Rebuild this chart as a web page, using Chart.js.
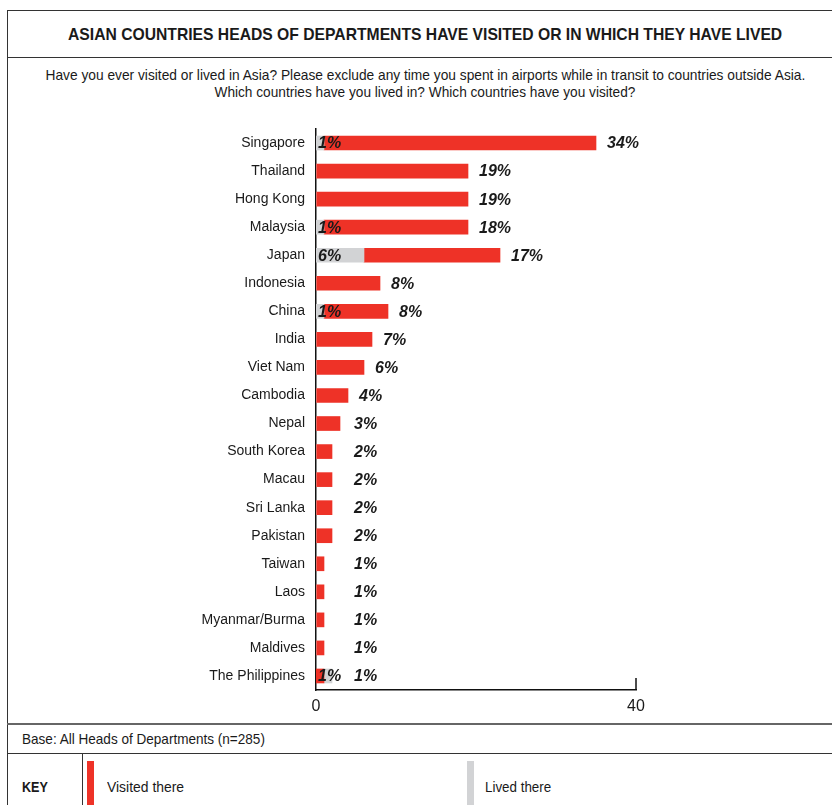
<!DOCTYPE html>
<html>
<head>
<meta charset="utf-8">
<script src="https://cdn.jsdelivr.net/npm/chart.js@4.4.1/dist/chart.umd.min.js"></script>
<style>
  body { margin: 0; background: #fff; font-family: "Liberation Sans", Arial, sans-serif; color: #1a1a1a; }
  #page { position: relative; width: 832px; height: 805px; overflow: hidden; }
  .hline { position: absolute; left: 7px; width: 840px; height: 0; border-top: 1px solid #333; }
  .vline { position: absolute; width: 0; border-left: 1px solid #333; }
  .row { position: absolute; left: 7px; width: 836px; text-align: center; white-space: nowrap; }
  .fit { display: inline-block; white-space: nowrap; }
  #title { top: 25px; font-weight: bold; font-size: 17px; line-height: 20px; }
  .sub { font-size: 15px; line-height: 17px; }
  #chartCanvas { position: absolute; left: 8px; top: 100px; }
  .lt { position: absolute; font-size: 15px; white-space: nowrap; }
  .swatch { position: absolute; top: 761px; width: 7px; height: 50px; }
</style>
</head>
<body>
<div id="page">
  <div class="hline" style="top:10px"></div>
  <div class="vline" style="left:7px; top:10px; height:800px"></div>
  <div class="row" id="title"><span class="fit" data-w="714">ASIAN COUNTRIES HEADS OF DEPARTMENTS HAVE VISITED OR IN WHICH THEY HAVE LIVED</span></div>
  <div class="hline" style="top:57px"></div>
  <div class="row sub" style="top:66px"><span class="fit" data-w="760">Have you ever visited or lived in Asia? Please exclude any time you spent in airports while in transit to countries outside Asia.</span></div>
  <div class="row sub" style="top:83px"><span class="fit" data-w="421">Which countries have you lived in? Which countries have you visited?</span></div>
  <canvas id="chartCanvas" width="824" height="625"></canvas>
  <div class="hline" style="top:723px; border-top:2px solid #666"></div>
  <div class="lt" style="left:22px; top:730px"><span class="fit left" data-w="243">Base: All Heads of Departments (n=285)</span></div>
  <div class="hline" style="top:753px"></div>
  <div class="lt" style="left:22px; top:778px; font-weight:bold"><span class="fit left" data-w="26">KEY</span></div>
  <div class="vline" style="left:82px; top:753px; height:60px"></div>
  <div class="swatch" style="left:87px; background:#ee3227"></div>
  <div class="lt" style="left:107px; top:778px"><span class="fit left" data-w="77">Visited there</span></div>
  <div class="swatch" style="left:467px; background:#d2d3d5"></div>
  <div class="lt" style="left:485px; top:778px"><span class="fit left" data-w="66">Lived there</span></div>
</div>
<script>
const countries = ['Singapore', 'Thailand', 'Hong Kong', 'Malaysia', 'Japan', 'Indonesia', 'China', 'India',
    'Viet Nam', 'Cambodia', 'Nepal', 'South Korea', 'Macau', 'Sri Lanka', 'Pakistan', 'Taiwan', 'Laos',
    'Myanmar/Burma', 'Maldives', 'The Philippines'];
const visited = [34, 19, 19, 18, 17, 8, 8, 7, 6, 4, 3, 2, 2, 2, 2, 1, 1, 1, 1, 1];
const lived = [1, 0, 0, 1, 6, 0, 1, 0, 0, 0, 0, 0, 0, 0, 0, 0, 0, 0, 0, 1];
// in the original the grey bar for this row sits after the red one
const livedShownAfter = ['The Philippines'];
const xTicks = [0, 40];

const RED = '#ee3227';
const GREY = '#d2d3d5';
const INK = '#1a1a1a';

// the source uses a condensed face; squeeze the html text to the same widths
document.querySelectorAll('.fit').forEach(el => {
    const s = el.dataset.w / el.offsetWidth;
    el.style.transformOrigin = el.classList.contains('left') ? 'left center' : 'center center';
    el.style.transform = `scaleX(${s})`;
});

const livedBefore = lived.map((v, i) => livedShownAfter.includes(countries[i]) ? null : v);
const livedAfter = lived.map((v, i) => livedShownAfter.includes(countries[i]) ? v : null);

// value labels: grey value at bar start, red value after the bar end
const valueLabels = {
    id: 'valueLabels',
    afterDatasetsDraw(chart) {
        const ctx = chart.ctx;
        const x = chart.scales.x;
        const y = chart.scales.y;
        ctx.save();
        ctx.font = 'italic bold 16px "Liberation Sans", Arial, sans-serif';
        ctx.fillStyle = INK;
        ctx.textBaseline = 'middle';
        ctx.textAlign = 'left';
        countries.forEach((c, i) => {
            const yy = y.getPixelForValue(i) + 1;
            if (lived[i] > 0) {
                ctx.fillText(lived[i] + '%', x.left + 2, yy);
            }
            const end = x.getPixelForValue(lived[i] + visited[i]);
            const lx = Math.max(end + 11, x.left + 38);
            ctx.fillText(visited[i] + '%', lx, yy);
        });
        // single tick mark at the end of the axis, pointing up
        ctx.strokeStyle = '#111';
        ctx.lineWidth = 1.5;
        const tx = x.getPixelForValue(xTicks[xTicks.length - 1]);
        ctx.beginPath();
        ctx.moveTo(tx, x.top - 12);
        ctx.lineTo(tx, x.top);
        ctx.stroke();
        ctx.restore();
    }
};

const chart = new Chart(document.getElementById('chartCanvas').getContext('2d'), {
    type: 'bar',
    data: {
        labels: countries,
        datasets: [
            { label: 'Lived there', data: livedBefore, backgroundColor: GREY },
            { label: 'Visited there', data: visited, backgroundColor: RED },
            { label: 'Lived there (after)', data: livedAfter, backgroundColor: GREY }
        ]
    },
    options: {
        indexAxis: 'y',
        responsive: false,
        animation: false,
        barThickness: 14,
        layout: { padding: { top: 29, right: 196, bottom: 5, left: 0 } },
        plugins: {
            legend: { display: false },
            tooltip: { enabled: false }
        },
        scales: {
            x: {
                stacked: true,
                min: 0,
                max: 40,
                afterBuildTicks: (axis) => { axis.ticks = xTicks.map(v => ({ value: v })); },
                grid: { display: false, drawTicks: false },
                border: { display: true, color: '#111', width: 1.5 },
                ticks: { padding: 7, color: INK, font: { family: '"Liberation Sans", Arial, sans-serif', size: 16 } },
                afterFit: (axis) => { axis.height = 30; }
            },
            y: {
                stacked: true,
                grid: { display: false, drawTicks: false },
                border: { display: true, color: '#111', width: 1.5 },
                ticks: { padding: 11, color: INK, font: { family: '"Liberation Sans", Arial, sans-serif', size: 14 } },
                afterFit: (axis) => { axis.width = 308; }
            }
        }
    },
    plugins: [valueLabels]
});
</script>
</body>
</html>
